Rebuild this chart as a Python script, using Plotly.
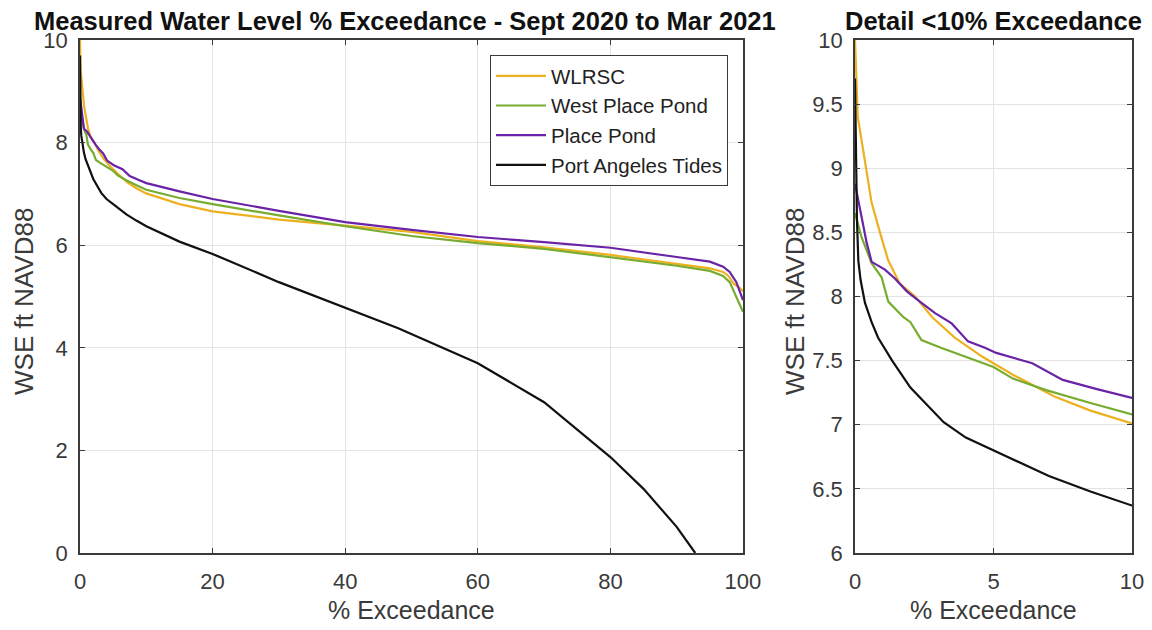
import plotly.graph_objects as go
from plotly.subplots import make_subplots

# ---- data ----
series_names = ["WLRSC", "West Place Pond", "Place Pond", "Port Angeles Tides"]

pct_wlrsc = [0, 0.1, 0.4, 0.6, 0.9, 1.2, 1.62, 2.17, 2.78, 3.6, 4.6, 5.7, 7.2, 8.5, 10,
             15, 20, 30, 40, 50, 60, 70, 80, 90, 95, 97, 97.8, 98.6, 99.5, 100]
wse_wlrsc = [10.0, 9.4, 9.0, 8.73, 8.5, 8.28, 8.1, 8.0, 7.84, 7.68, 7.53, 7.39, 7.22, 7.11, 7.01,
             6.80, 6.66, 6.50, 6.38, 6.26, 6.08, 5.96, 5.81, 5.63, 5.55, 5.48, 5.40, 5.25, 5.17, 5.10]

pct_west = [0, 0.24, 0.6, 0.96, 1.2, 1.74, 2.0, 2.17, 2.4, 3.1, 4.2, 5.0, 5.7, 6.9, 8.5, 10,
            15, 20, 30, 40, 50, 56, 60, 70, 80, 90, 95, 97, 98, 99, 100]
wse_west = [8.65, 8.46, 8.26, 8.15, 7.96, 7.84, 7.80, 7.74, 7.66, 7.60, 7.51, 7.45, 7.36, 7.27, 7.17, 7.08,
            6.92, 6.80, 6.58, 6.37, 6.18, 6.10, 6.04, 5.93, 5.77, 5.60, 5.50, 5.40, 5.28, 5.00, 4.70]

pct_place = [0, 0.18, 0.42, 0.6, 1.08, 1.44, 1.87, 2.4, 2.89, 3.49, 4.08, 4.69, 5.1, 6.4, 7.5, 8.7, 10,
             15, 20, 30, 40, 50, 60, 70, 80, 90, 95, 97, 98, 99, 100]
wse_place = [8.88, 8.67, 8.42, 8.27, 8.21, 8.14, 8.04, 7.95, 7.87, 7.79, 7.65, 7.60, 7.56, 7.48, 7.35, 7.28, 7.21,
             7.05, 6.90, 6.67, 6.45, 6.30, 6.16, 6.06, 5.95, 5.77, 5.68, 5.58, 5.48, 5.28, 4.93]

pct_tides = [0, 0.03, 0.07, 0.12, 0.2, 0.36, 0.6, 0.83, 1.34, 2.0, 3.2, 4.0, 5.0, 7.0, 8.5, 10,
             15, 20, 30, 40, 48, 60, 70, 80, 85, 90, 92.8]
wse_tides = [9.7, 9.0, 8.6, 8.28, 8.13, 7.95, 7.8, 7.68, 7.50, 7.29, 7.02, 6.9, 6.8, 6.6, 6.48, 6.37,
             6.07, 5.83, 5.28, 4.78, 4.38, 3.70, 2.94, 1.87, 1.25, 0.51, 0.0]

colors = ["#EDB120", "#77AC30", "#6A22A6", "#111111"]

left_xticks = [0, 20, 40, 60, 80, 100]
left_yticks = [0, 2, 4, 6, 8, 10]
right_xticks = [0, 5, 10]
right_yticks = [6, 6.5, 7, 7.5, 8, 8.5, 9, 9.5, 10]

left_title = "Measured Water Level % Exceedance - Sept 2020 to Mar 2021"
right_title = "Detail <10% Exceedance"
x_label = "% Exceedance"
y_label = "WSE ft NAVD88"

FONT = "Liberation Sans, Arial"
TXT = "#3A3A3A"

# ---- figure ----
fig = make_subplots(rows=1, cols=2, horizontal_spacing=0.0)

xs = [pct_wlrsc, pct_west, pct_place, pct_tides]
ys = [wse_wlrsc, wse_west, wse_place, wse_tides]

for col in (1, 2):
    for name, x, y, c in zip(series_names, xs, ys, colors):
        fig.add_trace(go.Scatter(x=x, y=y, mode="lines", name=name,
                                 line=dict(color=c, width=2.2),
                                 showlegend=(col == 1)), row=1, col=col)

axis_common = dict(showgrid=True, gridcolor="#E3E3E3", gridwidth=1,
                   showline=True, linecolor="#3A3A3A", linewidth=1.5, mirror="ticks",
                   ticks="inside", ticklen=5, tickcolor="#3A3A3A",
                   tickfont=dict(family=FONT, size=22, color=TXT),
                   zeroline=False, automargin=False)

OFF = 8                 # page body margin offset in the browser
PW, PH = 1052, 513      # plot area in px
L, T = 80 - OFF, 40 - OFF

def px_x(p):
    return (p - OFF - L) / PW

def px_y(p):
    return 1 - (p - OFF - T) / PH

fig.update_layout(
    width=1152, height=630,
    margin=dict(l=L, r=1152 - L - PW, t=T, b=630 - T - PH),
    paper_bgcolor="white", plot_bgcolor="white",
    font=dict(family=FONT, color=TXT),
    xaxis=dict(domain=[0, 0.6302], range=[0, 100], tickvals=left_xticks, ticklabelstandoff=8, **axis_common),
    yaxis=dict(range=[0, 10], tickvals=left_yticks, ticklabelstandoff=6, **axis_common),
    xaxis2=dict(domain=[0.7367, 1.0], range=[0, 10], tickvals=right_xticks, ticklabelstandoff=8, **axis_common),
    yaxis2=dict(range=[6, 10], tickvals=right_yticks, ticklabelstandoff=6, **axis_common),
    legend=dict(x=px_x(728), y=px_y(55), xanchor="right", yanchor="top",
                bgcolor="white", bordercolor="#3A3A3A", borderwidth=1,
                font=dict(family=FONT, size=20.5, color="#222222"),
                tracegroupgap=0, itemwidth=50),
    annotations=[
        dict(text="<b>" + left_title + "</b>", xref="paper", yref="paper",
             x=px_x(405), y=px_y(20.5), xanchor="center", yanchor="middle", showarrow=False,
             font=dict(family=FONT, size=25.5, color="#111111")),
        dict(text="<b>" + right_title + "</b>", xref="paper", yref="paper",
             x=px_x(993), y=px_y(20.5), xanchor="center", yanchor="middle", showarrow=False,
             font=dict(family=FONT, size=25.5, color="#111111")),
        dict(text=x_label, xref="paper", yref="paper",
             x=px_x(411), y=px_y(610), xanchor="center", yanchor="middle", showarrow=False,
             font=dict(family=FONT, size=25, color=TXT)),
        dict(text=x_label, xref="paper", yref="paper",
             x=px_x(993), y=px_y(610), xanchor="center", yanchor="middle", showarrow=False,
             font=dict(family=FONT, size=25, color=TXT)),
        dict(text=y_label, xref="paper", yref="paper", textangle=-90,
             x=px_x(24), y=px_y(302), xanchor="center", yanchor="middle", showarrow=False,
             font=dict(family=FONT, size=26, color=TXT)),
        dict(text=y_label, xref="paper", yref="paper", textangle=-90,
             x=px_x(795), y=px_y(302), xanchor="center", yanchor="middle", showarrow=False,
             font=dict(family=FONT, size=26, color=TXT)),
    ],
)

fig.write_html("out.html")
